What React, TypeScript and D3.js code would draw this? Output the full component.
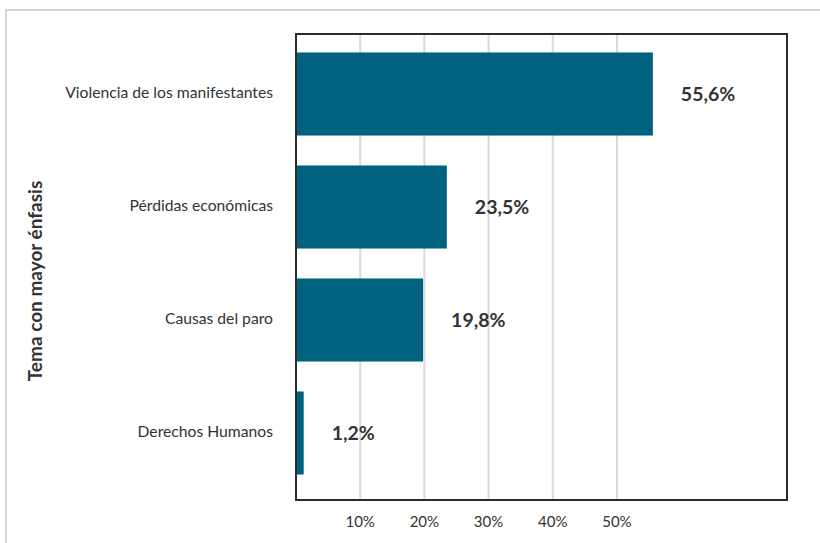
import React from "react";
import * as d3 from "d3";

const categories = [
  "Violencia de los manifestantes",
  "Pérdidas económicas",
  "Causas del paro",
  "Derechos Humanos",
];
const values = [0.556, 0.235, 0.198, 0.012];
const valueLabels = ["55,6%", "23,5%", "19,8%", "1,2%"];
const tickValues = [0.1, 0.2, 0.3, 0.4, 0.5];
const tickLabels = ["10%", "20%", "30%", "40%", "50%"];
const axisTitle = "Tema con mayor énfasis";

const W = 820;
const H = 543;
const frame = { left: 296, top: 34, right: 787, bottom: 500 };
const FONT = "Lato, 'Open Sans', sans-serif";
const BAR = "#00627f";
const TEXT = "#333333";

export default function App() {
  const x = d3.scaleLinear().domain([0, 0.765]).range([frame.left, frame.right]);
  const y = d3
    .scaleBand<string>()
    .domain(categories)
    .range([37.5, 489.5])
    .paddingInner(0.265)
    .paddingOuter(0.1325);

  return (
    <svg
      width={W}
      height={H}
      style={{ position: "absolute", left: 0, top: 0, background: "#fff" }}
      fontFamily={FONT}
    >
      <rect x={6} y={10} width={W} height={H} fill="none" stroke="#c6c6c6" strokeWidth={1.5} />
      {tickValues.map((t) => (
        <line
          key={"g" + t}
          x1={x(t)}
          x2={x(t)}
          y1={frame.top}
          y2={frame.bottom}
          stroke="#d9d9d9"
          strokeWidth={2}
        />
      ))}
      {categories.map((c, i) => (
        <g key={c}>
          <rect
            x={x(0)}
            y={y(c)!}
            width={x(values[i]) - x(0)}
            height={y.bandwidth()}
            fill={BAR}
          />
          <text
            x={273}
            y={y(c)! + y.bandwidth() / 2}
            textAnchor="end"
            dominantBaseline="middle"
            fontSize={15.7}
            fill={TEXT}
          >
            {c}
          </text>
          <text
            x={x(values[i]) + 28}
            y={y(c)! + y.bandwidth() / 2 + 2}
            textAnchor="start"
            dominantBaseline="middle"
            fontSize={19.5}
            fontWeight="bold"
            fill={TEXT}
          >
            {valueLabels[i]}
          </text>
        </g>
      ))}
      <rect
        x={frame.left}
        y={frame.top}
        width={frame.right - frame.left}
        height={frame.bottom - frame.top}
        fill="none"
        stroke="#2b2b2b"
        strokeWidth={2}
      />
      {tickValues.map((t, i) => (
        <text
          key={"t" + t}
          x={x(t)}
          y={523.5}
          textAnchor="middle"
          dominantBaseline="middle"
          fontSize={15}
          fill={TEXT}
        >
          {tickLabels[i]}
        </text>
      ))}
      <text
        transform={`translate(37,281) rotate(-90)`}
        textAnchor="middle"
        dominantBaseline="middle"
        fontSize={19}
        fontWeight="bold"
        fill={TEXT}
      >
        {axisTitle}
      </text>
    </svg>
  );
}
